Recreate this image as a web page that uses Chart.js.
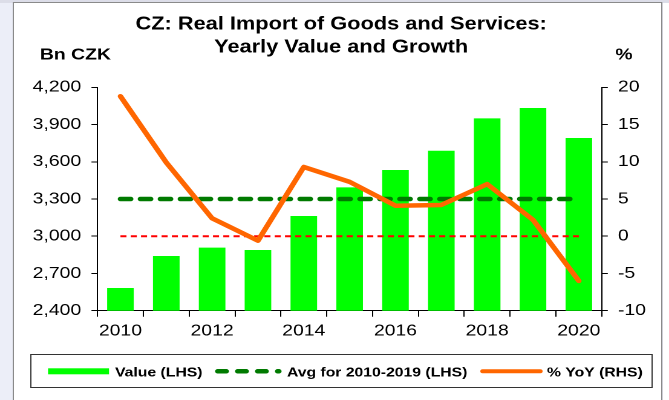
<!DOCTYPE html>
<html>
<head>
<meta charset="utf-8">
<script src="https://cdn.jsdelivr.net/npm/chart.js@4"></script>
<style>
    html, body { margin: 0; padding: 0; overflow: hidden; background: #fff; }
    /* the original picture is stretched sideways, so the chart is drawn narrower and scaled */
    #wrap { width: 553px; height: 400px; transform: scaleX(1.2098); transform-origin: 0 0; }
</style>
</head>
<body>
<div id="wrap"><canvas id="chart"></canvas></div>
<script>
// --- DATA ---
const years = ['2010', '2011', '2012', '2013', '2014', '2015', '2016', '2017', '2018', '2019', '2020'];
const importValue = [2583, 2841, 2908, 2889, 3163, 3394, 3534, 3689, 3950, 4033, 3791];
const avgValue = [3300, 3300, 3300, 3300, 3300, 3300, 3300, 3300, 3300, 3300, 3300];
const zeroLine = [0, 0, 0, 0, 0, 0, 0, 0, 0, 0, 0];
const yoyGrowth = [18.8, 9.9, 2.4, -0.6, 9.3, 7.3, 4.1, 4.2, 7.0, 2.2, -6.0];
const leftTicks = [2400, 2700, 3000, 3300, 3600, 3900, 4200];
const rightTicks = [-10, -5, 0, 5, 10, 15, 20];

const FONT = '"Liberation Sans", Arial, sans-serif';
const GREEN = '#00ff00';
const DARK_GREEN = '#007a00';
const ORANGE = '#ff6600';

Chart.defaults.font.family = FONT;
Chart.defaults.color = '#000';

// --- FRAME, TITLES AND LEGEND ---
const framePlugin = {
    id: 'frame',
    beforeDraw(chart) {
        const ctx = chart.ctx;
        ctx.save();
        ctx.fillStyle = '#eceef8';
        ctx.fillRect(0, 0, chart.width, chart.height);
        ctx.fillStyle = '#dcdde8';
        ctx.fillRect(0, 0, chart.width, 3);
        ctx.fillStyle = '#fff';
        ctx.fillRect(11, 3, 536, chart.height);
        ctx.fillRect(548, 3, chart.width - 548, chart.height);
        ctx.strokeStyle = '#8a8a8a';
        ctx.lineWidth = 1;
        ctx.beginPath();
        ctx.moveTo(11, chart.height);
        ctx.lineTo(11, 2.5);
        ctx.lineTo(547, 2.5);
        ctx.lineTo(547, chart.height);
        ctx.stroke();
        ctx.restore();
    },
    afterDraw(chart) {
        const ctx = chart.ctx;
        ctx.save();
        ctx.fillStyle = '#000';
        ctx.textBaseline = 'alphabetic';
        ctx.textAlign = 'center';
        ctx.font = 'bold 18px ' + FONT;
        ctx.fillText('CZ: Real Import of Goods and Services:', 282, 29.5);
        ctx.fillText('Yearly Value and Growth', 282, 52.7);

        ctx.font = 'bold 16px ' + FONT;
        ctx.textAlign = 'left';
        ctx.fillText('Bn CZK', 33, 59.3);
        ctx.textAlign = 'center';
        ctx.fillText('%', 515.7, 59.3);

        // legend box
        ctx.strokeStyle = '#333';
        ctx.lineWidth = 1;
        ctx.strokeRect(25.5, 354.5, 513.5, 33);

        ctx.fillStyle = GREEN;
        ctx.fillRect(39.7, 368.3, 50.4, 6);

        ctx.strokeStyle = DARK_GREEN;
        ctx.lineWidth = 4.5;
        ctx.lineCap = 'round';
        ctx.setLineDash([7, 9.5]);
        ctx.beginPath();
        ctx.moveTo(180, 371.3);
        ctx.lineTo(230.5, 371.3);
        ctx.stroke();
        ctx.setLineDash([]);

        ctx.strokeStyle = ORANGE;
        ctx.lineWidth = 4;
        ctx.beginPath();
        ctx.moveTo(399, 371.3);
        ctx.lineTo(446.5, 371.3);
        ctx.stroke();

        ctx.fillStyle = '#000';
        ctx.textAlign = 'left';
        ctx.font = 'bold 13px ' + FONT;
        ctx.fillText('Value (LHS)', 95.1, 376.3);
        ctx.fillText('Avg for 2010-2019 (LHS)', 237.2, 376.3);
        ctx.fillText('% YoY (RHS)', 452.1, 376.3);
        ctx.restore();
    }
};

// --- CHART ---
new Chart(document.getElementById('chart').getContext('2d'), {
    type: 'bar',
    data: {
        labels: years,
        datasets: [
            {
                type: 'line', label: '% YoY (RHS)', data: yoyGrowth, yAxisID: 'y1', order: 1,
                borderColor: ORANGE, borderWidth: 4.5, pointRadius: 0, tension: 0,
                borderCapStyle: 'round', borderJoinStyle: 'round'
            },
            {
                type: 'line', label: 'Avg for 2010-2019 (LHS)', data: avgValue, yAxisID: 'y', order: 2,
                borderColor: DARK_GREEN, borderWidth: 4.5, pointRadius: 0,
                borderDash: [8.5, 8], borderCapStyle: 'round'
            },
            {
                type: 'line', label: 'zero', data: zeroLine, yAxisID: 'y1', order: 3,
                borderColor: '#ff0000', borderWidth: 2, pointRadius: 0, borderDash: [5, 3.5]
            },
            {
                type: 'bar', label: 'Value (LHS)', data: importValue, yAxisID: 'y', order: 4,
                backgroundColor: GREEN, barPercentage: 0.58, categoryPercentage: 1
            }
        ]
    },
    options: {
        responsive: true,
        maintainAspectRatio: false,
        animation: false,
        devicePixelRatio: 2,
        layout: { padding: { top: 87.3, left: 0, right: 0, bottom: 0 } },
        plugins: { legend: { display: false }, tooltip: { enabled: false }, title: { display: false } },
        scales: {
            x: {
                grid: { offset: true, drawOnChartArea: false, color: '#000', tickLength: 6 },
                border: { color: '#000', width: 1 },
                ticks: {
                    autoSkip: false, maxRotation: 0, padding: 5,
                    font: { size: 16 }, color: '#000',
                    callback: (v, i) => (i % 2 === 0 ? years[i] : '')
                },
                afterFit: (scale) => { scale.height = 89.3; }
            },
            y: {
                position: 'left', min: leftTicks[0], max: leftTicks[leftTicks.length - 1],
                grid: { drawOnChartArea: false, color: '#000', tickLength: 5 },
                border: { color: '#000', width: 1 },
                afterBuildTicks: (scale) => { scale.ticks = leftTicks.map(v => ({ value: v })); },
                ticks: {
                    padding: 8.5, font: { size: 16 }, color: '#000',
                    callback: (v) => v.toLocaleString('en-US')
                },
                afterFit: (scale) => { scale.width = 80.6; }
            },
            y1: {
                position: 'right', min: rightTicks[0], max: rightTicks[rightTicks.length - 1],
                grid: { drawOnChartArea: false, color: '#000', tickLength: 5 },
                border: { color: '#000', width: 1 },
                afterBuildTicks: (scale) => { scale.ticks = rightTicks.map(v => ({ value: v })); },
                ticks: { padding: 8.4, font: { size: 16 }, color: '#000' },
                afterFit: (scale) => { scale.width = 55.6; }
            }
        }
    },
    plugins: [framePlugin]
});
</script>
</body>
</html>
